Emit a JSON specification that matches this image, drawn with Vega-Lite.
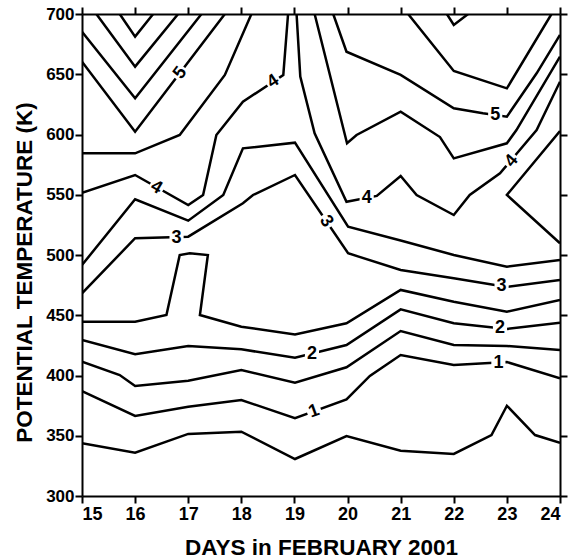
{
  "$schema": "https://vega.github.io/schema/vega-lite/v6.json",
  "width": 478,
  "height": 482,
  "autosize": {"type": "none"},
  "padding": {"left": 82, "top": 14, "right": 11, "bottom": 62},
  "background": "white",
  "config": {
    "view": {"stroke": null},
    "axis": {
      "domainColor": "black", "domainWidth": 2,
      "tickColor": "black", "tickWidth": 2, "tickSize": 7,
      "labelFont": "Liberation Sans", "labelFontWeight": "bold", "labelColor": "black",
      "titleFont": "Liberation Sans", "titleFontWeight": "bold", "titleColor": "black",
      "grid": false
    }
  },
  "datasets": {
    "lines": [
      {"c":"L1","i":0,"d":15.71,"k":700},{"c":"L1","i":1,"d":16,"k":681.2},{"c":"L1","i":2,"d":16.34,"k":700},
      {"c":"L2","i":0,"d":15.27,"k":700},{"c":"L2","i":1,"d":16,"k":656.3},{"c":"L2","i":2,"d":16.81,"k":700},
      {"c":"L3","i":0,"d":15,"k":685.3},{"c":"L3","i":1,"d":16,"k":630},{"c":"L3","i":2,"d":17.25,"k":700},
      {"c":"L4","i":0,"d":15,"k":660.4},{"c":"L4","i":1,"d":16,"k":602.3},{"c":"L4","i":2,"d":17.69,"k":700},
      {"c":"L5","i":0,"d":15,"k":584.4},{"c":"L5","i":1,"d":16,"k":584.4},{"c":"L5","i":2,"d":16.84,"k":599.6},{"c":"L5","i":3,"d":17.69,"k":649.4},{"c":"L5","i":4,"d":18.19,"k":700},
      {"c":"L6","i":0,"d":15,"k":551.7},{"c":"L6","i":1,"d":16,"k":566.4},{"c":"L6","i":2,"d":17,"k":541.5},{"c":"L6","i":3,"d":17.28,"k":549.8},{"c":"L6","i":4,"d":17.53,"k":599.6},{"c":"L6","i":5,"d":18.03,"k":627.2},{"c":"L6","i":6,"d":18.79,"k":649.4},{"c":"L6","i":7,"d":18.88,"k":700},
      {"c":"L7","i":0,"d":15,"k":491.7},{"c":"L7","i":1,"d":16,"k":546.2},{"c":"L7","i":2,"d":17,"k":528.5},{"c":"L7","i":3,"d":17.66,"k":549.8},{"c":"L7","i":4,"d":18.03,"k":588.5},{"c":"L7","i":5,"d":19.01,"k":593.2},{"c":"L7","i":6,"d":20.01,"k":523.5},{"c":"L7","i":7,"d":21,"k":512},{"c":"L7","i":8,"d":22,"k":500},{"c":"L7","i":9,"d":23,"k":490.3},{"c":"L7","i":10,"d":24,"k":495.9},
      {"c":"L8","i":0,"d":15,"k":468.2},{"c":"L8","i":1,"d":16,"k":513.9},{"c":"L8","i":2,"d":17,"k":515.2},{"c":"L8","i":3,"d":18.03,"k":542.9},{"c":"L8","i":4,"d":18.22,"k":549.8},{"c":"L8","i":5,"d":19.01,"k":566.4},{"c":"L8","i":6,"d":20.01,"k":501.4},{"c":"L8","i":7,"d":21,"k":487.6},{"c":"L8","i":8,"d":22,"k":480.7},{"c":"L8","i":9,"d":23,"k":473.5},{"c":"L8","i":10,"d":24,"k":479.3},
      {"c":"L9","i":0,"d":15,"k":444.6},{"c":"L9","i":1,"d":16,"k":444.6},{"c":"L9","i":2,"d":16.59,"k":450.2},{"c":"L9","i":3,"d":16.84,"k":500},{"c":"L9","i":4,"d":17.03,"k":501.4},{"c":"L9","i":5,"d":17.37,"k":500},{"c":"L9","i":6,"d":17.22,"k":450.2},{"c":"L9","i":7,"d":18,"k":440.5},{"c":"L9","i":8,"d":19.01,"k":434},{"c":"L9","i":9,"d":19.98,"k":443.3},{"c":"L9","i":10,"d":21,"k":471},{"c":"L9","i":11,"d":22,"k":461.2},{"c":"L9","i":12,"d":23,"k":452.9},{"c":"L9","i":13,"d":24,"k":462.7},
      {"c":"L10","i":0,"d":15,"k":429.5},{"c":"L10","i":1,"d":16,"k":417.6},{"c":"L10","i":2,"d":17,"k":424.5},{"c":"L10","i":3,"d":18,"k":421.7},{"c":"L10","i":4,"d":19.01,"k":414.8},{"c":"L10","i":5,"d":19.98,"k":425.3},{"c":"L10","i":6,"d":21,"k":454.9},{"c":"L10","i":7,"d":22,"k":443.3},{"c":"L10","i":8,"d":23,"k":438.6},{"c":"L10","i":9,"d":24,"k":443.8},
      {"c":"L11","i":0,"d":15,"k":411.5},{"c":"L11","i":1,"d":15.71,"k":400.4},{"c":"L11","i":2,"d":16,"k":391.3},{"c":"L11","i":3,"d":17,"k":395.7},{"c":"L11","i":4,"d":18,"k":404.6},{"c":"L11","i":5,"d":19.01,"k":394},{"c":"L11","i":6,"d":19.98,"k":406.8},{"c":"L11","i":7,"d":21,"k":436.9},{"c":"L11","i":8,"d":22,"k":425.3},{"c":"L11","i":9,"d":23,"k":424.5},{"c":"L11","i":10,"d":24,"k":421.2},
      {"c":"L12","i":0,"d":15,"k":387.1},{"c":"L12","i":1,"d":16,"k":366.4},{"c":"L12","i":2,"d":17,"k":374.1},{"c":"L12","i":3,"d":18,"k":379.7},{"c":"L12","i":4,"d":19.01,"k":364.5},{"c":"L12","i":5,"d":19.98,"k":380.2},{"c":"L12","i":6,"d":20.42,"k":399.6},{"c":"L12","i":7,"d":21,"k":417},{"c":"L12","i":8,"d":22,"k":408.7},{"c":"L12","i":9,"d":23,"k":411.2},{"c":"L12","i":10,"d":24,"k":397.7},
      {"c":"L13","i":0,"d":15,"k":343.7},{"c":"L13","i":1,"d":16,"k":335.9},{"c":"L13","i":2,"d":17,"k":351.5},{"c":"L13","i":3,"d":18,"k":353.4},{"c":"L13","i":4,"d":19.01,"k":330.7},{"c":"L13","i":5,"d":19.98,"k":349.8},{"c":"L13","i":6,"d":21,"k":337.6},{"c":"L13","i":7,"d":22,"k":334.9},{"c":"L13","i":8,"d":22.71,"k":350.6},{"c":"L13","i":9,"d":23,"k":374.9},{"c":"L13","i":10,"d":23.53,"k":350.6},{"c":"L13","i":11,"d":24,"k":344.2},
      {"c":"M1","i":0,"d":19.04,"k":700},{"c":"M1","i":1,"d":19.11,"k":648},{"c":"M1","i":2,"d":19.38,"k":601},{"c":"M1","i":3,"d":19.98,"k":544.2},{"c":"M1","i":4,"d":20.55,"k":549},{"c":"M1","i":5,"d":21,"k":565.6},{"c":"M1","i":6,"d":21.3,"k":549.8},{"c":"M1","i":7,"d":22,"k":533.2},{"c":"M1","i":8,"d":22.3,"k":549.8},{"c":"M1","i":9,"d":22.87,"k":567.8},{"c":"M1","i":10,"d":23.56,"k":603.7},{"c":"M1","i":11,"d":24,"k":643.8},
      {"c":"M2","i":0,"d":19.38,"k":700},{"c":"M2","i":1,"d":19.99,"k":592.7},{"c":"M2","i":2,"d":20.17,"k":599.6},{"c":"M2","i":3,"d":21,"k":618.9},{"c":"M2","i":4,"d":21.74,"k":597.9},{"c":"M2","i":5,"d":22,"k":580.2},{"c":"M2","i":6,"d":23,"k":592.7},{"c":"M2","i":7,"d":23.18,"k":603.7},{"c":"M2","i":8,"d":24,"k":664.6},
      {"c":"M3","i":0,"d":19.73,"k":700},{"c":"M3","i":1,"d":19.98,"k":668.7},{"c":"M3","i":2,"d":21,"k":649.4},{"c":"M3","i":3,"d":22,"k":621.7},{"c":"M3","i":4,"d":22.55,"k":617.6},{"c":"M3","i":5,"d":23,"k":614.8},{"c":"M3","i":6,"d":23.56,"k":650.8},{"c":"M3","i":7,"d":24,"k":682.6},
      {"c":"V55","i":0,"d":21.14,"k":700},{"c":"V55","i":1,"d":22,"k":652.7},{"c":"V55","i":2,"d":23,"k":638.3},{"c":"V55","i":3,"d":23.84,"k":700},
      {"c":"V6","i":0,"d":21.87,"k":700},{"c":"V6","i":1,"d":22,"k":690.9},{"c":"V6","i":2,"d":22.27,"k":700},
      {"c":"VR","i":0,"d":24,"k":602.9},{"c":"VR","i":1,"d":23,"k":549.8},{"c":"VR","i":2,"d":24,"k":509.7}
    ],
    "labels": [
      {"t":"5","d":16.85,"k":651,"a":-53},
      {"t":"4","d":16.4,"k":556,"a":30},
      {"t":"4","d":18.6,"k":644,"a":-34},
      {"t":"3","d":16.78,"k":514,"a":0},
      {"t":"3","d":19.6,"k":528,"a":56},
      {"t":"4","d":20.36,"k":547,"a":0},
      {"t":"5","d":22.78,"k":616.2,"a":0},
      {"t":"4","d":23.09,"k":578,"a":-50},
      {"t":"3","d":22.9,"k":474,"a":0},
      {"t":"2","d":19.33,"k":418,"a":0},
      {"t":"2","d":22.87,"k":439.2,"a":0},
      {"t":"1","d":19.37,"k":370.3,"a":-20},
      {"t":"1","d":22.84,"k":410.5,"a":0}
    ]
  },
  "layer": [
    {
      "data": {"name": "lines"},
      "mark": {"type": "line", "color": "black", "strokeWidth": 2.5, "strokeJoin": "miter", "clip": true},
      "encoding": {
        "x": {"field": "d", "type": "quantitative", "scale": {"domain": [15, 24], "nice": false, "zero": false},
              "axis": {"orient": "bottom", "values": [15,16,17,18,19,20,21,22,23,24], "title": "DAYS in FEBRUARY 2001", "labelFontSize": 18, "labelPadding": 2, "titleFontSize": 22.5, "titlePadding": 13, "tickSize": 7}},
        "y": {"field": "k", "type": "quantitative", "scale": {"domain": [300, 700], "nice": false, "zero": false},
              "axis": {"orient": "left", "values": [300,350,400,450,500,550,600,650,700], "title": "POTENTIAL TEMPERATURE (K)", "labelFontSize": 17, "labelPadding": 1, "titleFontSize": 22.5, "titlePadding": 9, "titleY": 258, "tickSize": 7}},
        "detail": {"field": "c", "type": "nominal"},
        "order": {"field": "i", "type": "quantitative"}
      }
    },
    {
      "data": {"name": "labels"},
      "mark": {"type": "point", "shape": "square", "filled": true, "color": "white", "opacity": 1, "size": 200},
      "encoding": {
        "x": {"field": "d", "type": "quantitative", "scale": {"domain": [15, 24], "nice": false, "zero": false}, "axis": null},
        "y": {"field": "k", "type": "quantitative", "scale": {"domain": [300, 700], "nice": false, "zero": false}, "axis": null},
        "angle": {"field": "a", "type": "quantitative", "scale": null}
      }
    },
    {
      "data": {"name": "labels"},
      "mark": {"type": "text", "font": "Liberation Sans", "fontWeight": "bold", "fontSize": 18, "color": "black", "align": "center", "baseline": "middle"},
      "encoding": {
        "x": {"field": "d", "type": "quantitative", "scale": {"domain": [15, 24], "nice": false, "zero": false},
              "axis": {"orient": "top", "values": [15,16,17,18,19,20,21,22,23,24], "labels": false, "title": null, "tickSize": 7}},
        "y": {"field": "k", "type": "quantitative", "scale": {"domain": [300, 700], "nice": false, "zero": false},
              "axis": {"orient": "right", "values": [300,350,400,450,500,550,600,650,700], "labels": false, "title": null, "tickSize": 7}},
        "text": {"field": "t", "type": "nominal"},
        "angle": {"field": "a", "type": "quantitative", "scale": null}
      }
    }
  ],
  "resolve": {"axis": {"x": "independent", "y": "independent"}}
}
